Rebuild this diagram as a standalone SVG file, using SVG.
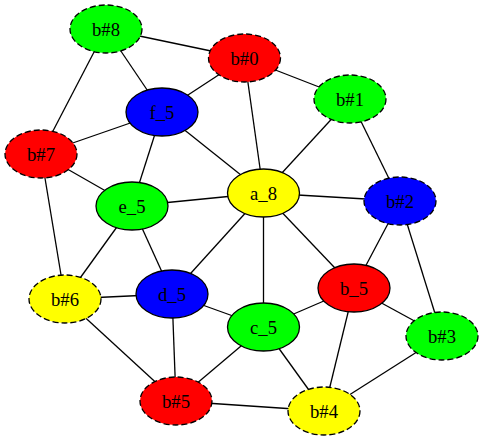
<svg xmlns="http://www.w3.org/2000/svg" width="484" height="441" viewBox="0 0 484 441">
<style>
.e line{stroke:#000;stroke-width:1.3}
.n ellipse{stroke:#000;stroke-width:1.3}
.d ellipse{stroke-dasharray:6,3}
text{font-family:"Liberation Serif","Times New Roman",serif;font-size:18.67px;text-anchor:middle;dominant-baseline:central;fill:#000}
.g{fill:#00ff00}.r{fill:#ff0000}.b{fill:#0000ff}.y{fill:#ffff00}
</style>
<rect width="484" height="441" fill="#fff"/>
<g id="edges" class="e">
<line x1="106" y1="29" x2="244.5" y2="58"/>
<line x1="106" y1="29" x2="162" y2="112"/>
<line x1="106" y1="29" x2="41" y2="154"/>
<line x1="244.5" y1="58" x2="162" y2="112"/>
<line x1="244.5" y1="58" x2="263.5" y2="193"/>
<line x1="244.5" y1="58" x2="350" y2="99"/>
<line x1="350" y1="99" x2="263.5" y2="193"/>
<line x1="350" y1="99" x2="400" y2="201"/>
<line x1="162" y1="112" x2="41" y2="154"/>
<line x1="162" y1="112" x2="132" y2="206"/>
<line x1="162" y1="112" x2="263.5" y2="193"/>
<line x1="41" y1="154" x2="132" y2="206"/>
<line x1="41" y1="154" x2="65" y2="299"/>
<line x1="263.5" y1="193" x2="132" y2="206"/>
<line x1="263.5" y1="193" x2="400" y2="201"/>
<line x1="263.5" y1="193" x2="172" y2="294"/>
<line x1="263.5" y1="193" x2="263.5" y2="327"/>
<line x1="263.5" y1="193" x2="354" y2="288"/>
<line x1="400" y1="201" x2="354" y2="288"/>
<line x1="400" y1="201" x2="442" y2="336"/>
<line x1="132" y1="206" x2="65" y2="299"/>
<line x1="132" y1="206" x2="172" y2="294"/>
<line x1="65" y1="299" x2="172" y2="294"/>
<line x1="65" y1="299" x2="176" y2="401"/>
<line x1="172" y1="294" x2="263.5" y2="327"/>
<line x1="172" y1="294" x2="176" y2="401"/>
<line x1="263.5" y1="327" x2="354" y2="288"/>
<line x1="263.5" y1="327" x2="176" y2="401"/>
<line x1="263.5" y1="327" x2="324" y2="411"/>
<line x1="354" y1="288" x2="442" y2="336"/>
<line x1="354" y1="288" x2="324" y2="411"/>
<line x1="442" y1="336" x2="324" y2="411"/>
<line x1="176" y1="401" x2="324" y2="411"/>
</g>
<g id="b8" class="n d"><ellipse class="g" cx="106" cy="29" rx="36" ry="24"/><text x="106" y="29">b#8</text></g>
<g id="b0" class="n d"><ellipse class="r" cx="244.5" cy="58" rx="36" ry="24"/><text x="244.5" y="58">b#0</text></g>
<g id="b1" class="n d"><ellipse class="g" cx="350" cy="99" rx="36" ry="24"/><text x="350" y="99">b#1</text></g>
<g id="f5" class="n"><ellipse class="b" cx="162" cy="112" rx="36" ry="24"/><text x="162" y="112">f_5</text></g>
<g id="b7" class="n d"><ellipse class="r" cx="41" cy="154" rx="36" ry="24"/><text x="41" y="154">b#7</text></g>
<g id="a8" class="n"><ellipse class="y" cx="263.5" cy="193" rx="36" ry="24"/><text x="263.5" y="193">a_8</text></g>
<g id="b2" class="n d"><ellipse class="b" cx="400" cy="201" rx="36" ry="24"/><text x="400" y="201">b#2</text></g>
<g id="e5" class="n"><ellipse class="g" cx="132" cy="206" rx="36" ry="24"/><text x="132" y="206">e_5</text></g>
<g id="b_5" class="n"><ellipse class="r" cx="354" cy="288" rx="36" ry="24"/><text x="354" y="288">b_5</text></g>
<g id="d5" class="n"><ellipse class="b" cx="172" cy="294" rx="36" ry="24"/><text x="172" y="294">d_5</text></g>
<g id="b6" class="n d"><ellipse class="y" cx="65" cy="299" rx="36" ry="24"/><text x="65" y="299">b#6</text></g>
<g id="c5" class="n"><ellipse class="g" cx="263.5" cy="327" rx="36" ry="24"/><text x="263.5" y="327">c_5</text></g>
<g id="b3" class="n d"><ellipse class="g" cx="442" cy="336" rx="36" ry="24"/><text x="442" y="336">b#3</text></g>
<g id="b5" class="n d"><ellipse class="r" cx="176" cy="401" rx="36" ry="24"/><text x="176" y="401">b#5</text></g>
<g id="b4" class="n d"><ellipse class="y" cx="324" cy="411" rx="36" ry="24"/><text x="324" y="411">b#4</text></g>
</svg>
